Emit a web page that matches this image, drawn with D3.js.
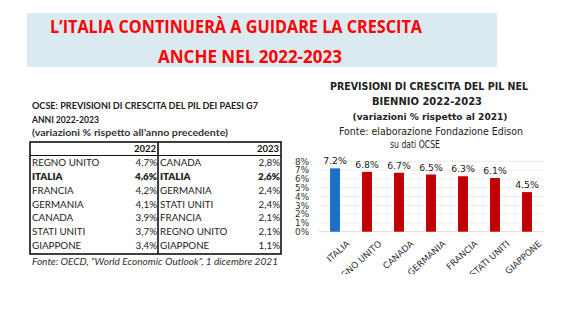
<!DOCTYPE html>
<html>
<head>
<meta charset="utf-8">
<script src="https://cdn.jsdelivr.net/npm/d3@7"></script>
<style>
  html, body { margin: 0; padding: 0; background: #fff; }
  svg { display: block; }
</style>
</head>
<body>
<svg id="page" width="580" height="326"></svg>
<script>
// Banner headline
const headline = ["L\u2019ITALIA CONTINUER\u00C0 A GUIDARE LA CRESCITA", "ANCHE NEL 2022-2023"];

// OECD table: 2022 ranking and 2023 ranking
const tableTitle = ["OCSE: PREVISIONI DI CRESCITA DEL PIL DEI PAESI G7", "ANNI 2022-2023", "(variazioni % rispetto all\u2019anno precedente)"];
const tableYears = ["2022", "2023"];
const countries2022 = ["REGNO UNITO", "ITALIA", "FRANCIA", "GERMANIA", "CANADA", "STATI UNITI", "GIAPPONE"];
const values2022 = [4.7, 4.6, 4.2, 4.1, 3.9, 3.7, 3.4];
const countries2023 = ["CANADA", "ITALIA", "GERMANIA", "STATI UNITI", "FRANCIA", "REGNO UNITO", "GIAPPONE"];
const values2023 = [2.8, 2.6, 2.4, 2.4, 2.1, 2.1, 1.1];
const tableSource = "Fonte: OECD, \u201CWorld Economic Outlook\u201D, 1 dicembre 2021";

// Bar chart: cumulative growth 2022-2023
const chartTitle = ["PREVISIONI DI CRESCITA DEL PIL NEL", "BIENNIO 2022-2023", "(variazioni % rispetto al 2021)", "Fonte: elaborazione Fondazione Edison", "su dati OCSE"];
const chartCountries = ["ITALIA", "REGNO UNITO", "CANADA", "GERMANIA", "FRANCIA", "STATI UNITI", "GIAPPONE"];
const chartValues = [7.2, 6.8, 6.7, 6.5, 6.3, 6.1, 4.5];
const yTicks = [0, 1, 2, 3, 4, 5, 6, 7, 8];

const svg = d3.select("#page");

// ---------- Banner ----------
svg.append("rect").attr("x", 27).attr("y", 13).attr("width", 470).attr("height", 54).attr("fill", "#dbeaf0");
const bannerLines = [
  { t: headline[0], x: 50, y: 33, w: 372 },
  { t: headline[1], x: 158, y: 63, w: 184 }
];
svg.selectAll("text.banner").data(bannerLines).join("text")
  .attr("class", "banner")
  .attr("x", d => d.x).attr("y", d => d.y)
  .attr("textLength", d => d.w).attr("lengthAdjust", "spacingAndGlyphs")
  .attr("font-family", "'Open Sans', sans-serif").attr("font-weight", 700)
  .attr("font-size", 17.5).attr("fill", "#ff0000")
  .text(d => d.t);

// ---------- Table ----------
const tbl = svg.append("g").attr("font-family", "Lato, sans-serif");
const fmt = v => d3.format(".1f")(v).replace(".", ",") + "%";

tbl.append("text").attr("x", 32).attr("y", 109).attr("font-size", 8.6).attr("font-weight", 700).attr("fill", "#222")
  .attr("textLength", 226).attr("lengthAdjust", "spacingAndGlyphs").text(tableTitle[0]);
tbl.append("text").attr("x", 32).attr("y", 123).attr("font-size", 8.6).attr("font-weight", 700).attr("fill", "#222")
  .text(tableTitle[1]);
tbl.append("text").attr("x", 32).attr("y", 136).attr("font-size", 8.6).attr("font-weight", 700).attr("fill", "#333")
  .attr("textLength", 196).attr("lengthAdjust", "spacingAndGlyphs").text(tableTitle[2]);

const xL = 30, xM = 158, xR = 281, yTop = 142, yHead = 155.5, yBot = 254;
const rowY = i => 163 + i * 13.7;

// header years
tbl.selectAll("text.year").data(tableYears).join("text")
  .attr("class", "year")
  .attr("x", (d, i) => i === 0 ? xM - 2 : xR - 2).attr("y", 149).attr("dy", "0.35em")
  .attr("text-anchor", "end").attr("font-size", 9.5).attr("font-weight", 700).attr("fill", "#111")
  .text(d => d);

function tableColumn(names, values, xName, xVal) {
  const rows = tbl.append("g").selectAll("g").data(names.map((n, i) => ({ n, v: values[i], i }))).join("g");
  rows.append("text").attr("x", xName).attr("y", d => rowY(d.i)).attr("dy", "0.35em")
    .attr("font-size", 9.8).attr("fill", "#222")
    .attr("font-weight", d => d.n === "ITALIA" ? 800 : 400)
    .text(d => d.n);
  rows.append("text").attr("x", xVal).attr("y", d => rowY(d.i)).attr("dy", "0.35em")
    .attr("text-anchor", "end").attr("font-size", 9.8).attr("fill", "#222")
    .attr("font-weight", d => d.n === "ITALIA" ? 800 : 400)
    .text(d => fmt(d.v));
}
tableColumn(countries2022, values2022, 32, xM - 1);
tableColumn(countries2023, values2023, xM + 2, xR - 1);

// grid lines of the table
tbl.append("rect").attr("x", xL).attr("y", yTop).attr("width", xR - xL).attr("height", yBot - yTop)
  .attr("fill", "none").attr("stroke", "#111").attr("stroke-width", 1.6);
tbl.append("line").attr("x1", xL).attr("x2", xR).attr("y1", yHead).attr("y2", yHead)
  .attr("stroke", "#111").attr("stroke-width", 1.1);
tbl.append("line").attr("x1", xM).attr("x2", xM).attr("y1", yTop).attr("y2", yBot)
  .attr("stroke", "#111").attr("stroke-width", 1.6);

tbl.append("text").attr("x", 32).attr("y", 265).attr("font-size", 9).attr("font-style", "italic").attr("fill", "#333")
  .attr("textLength", 246).attr("lengthAdjust", "spacingAndGlyphs").text(tableSource);

// ---------- Bar chart ----------
const titleLines = [
  { t: chartTitle[0], x: 429, y: 87, w: 198, size: 9.6, weight: 700 },
  { t: chartTitle[1], x: 427, y: 102, w: 110, size: 9.6, weight: 700 },
  { t: chartTitle[2], x: 430, y: 117, w: 155, size: 8.8, weight: 700 },
  { t: chartTitle[3], x: 431, y: 132, w: 184, size: 9.6, weight: 400 },
  { t: chartTitle[4], x: 415, y: 145, w: 50, size: 9.6, weight: 400 }
];
svg.selectAll("text.ctitle").data(titleLines).join("text")
  .attr("class", "ctitle")
  .attr("x", d => d.x).attr("y", d => d.y).attr("dy", "0.35em")
  .attr("text-anchor", "middle")
  .attr("textLength", d => d.w).attr("lengthAdjust", "spacingAndGlyphs")
  .attr("font-family", "'DejaVu Sans', sans-serif")
  .attr("font-size", d => d.size).attr("font-weight", d => d.weight).attr("fill", "#222")
  .text(d => d.t);

svg.append("defs").append("clipPath").attr("id", "chartClip")
  .append("rect").attr("x", 290).attr("y", 150).attr("width", 290).attr("height", 124);

const chart = svg.append("g").attr("clip-path", "url(#chartClip)")
  .attr("font-family", "'DejaVu Sans', sans-serif");

const x = d3.scaleBand().domain(chartCountries).range([319, 543]).paddingInner(0.69).paddingOuter(0.345);
const y = d3.scaleLinear().domain([0, 8]).range([231.7, 161.3]);

// horizontal grid
chart.append("g").selectAll("line").data(yTicks).join("line")
  .attr("x1", 319).attr("x2", 543)
  .attr("y1", d => y(d)).attr("y2", d => y(d))
  .attr("stroke", d => d === 0 ? "#d9d9d9" : "#ececec").attr("stroke-width", 1);

// y axis labels
const yAxis = chart.append("g").attr("transform", "translate(311,0)")
  .call(d3.axisLeft(y).tickValues(yTicks).tickSize(0).tickPadding(2).tickFormat(d => d + "%"));
yAxis.select(".domain").remove();
yAxis.selectAll("text").attr("font-size", 8.8).attr("fill", "#333").attr("font-family", "'DejaVu Sans', sans-serif");

// bars
chart.append("g").selectAll("rect").data(chartCountries).join("rect")
  .attr("x", d => x(d)).attr("width", x.bandwidth())
  .attr("y", (d, i) => y(chartValues[i]))
  .attr("height", (d, i) => y(0) - y(chartValues[i]))
  .attr("fill", d => d === "ITALIA" ? "#1b6fc4" : "#c00000");

// value labels
chart.append("g").selectAll("text").data(chartCountries).join("text")
  .attr("x", d => x(d) + x.bandwidth() / 2)
  .attr("y", (d, i) => y(chartValues[i]) - 4)
  .attr("text-anchor", "middle").attr("font-size", 9.3).attr("fill", "#1a1a1a")
  .text((d, i) => d3.format(".1f")(chartValues[i]) + "%");

// category labels, rotated
const xAxis = chart.append("g").attr("transform", "translate(0,237)")
  .call(d3.axisBottom(x).tickSize(0).tickPadding(0));
xAxis.select(".domain").remove();
xAxis.selectAll("text")
  .attr("font-size", 8.8).attr("fill", "#333").attr("font-family", "'DejaVu Sans', sans-serif")
  .attr("text-anchor", "end")
  .attr("dy", "0.7em").attr("y", 0)
  .attr("transform", "translate(11,3) rotate(-42)");
</script>
</body>
</html>
